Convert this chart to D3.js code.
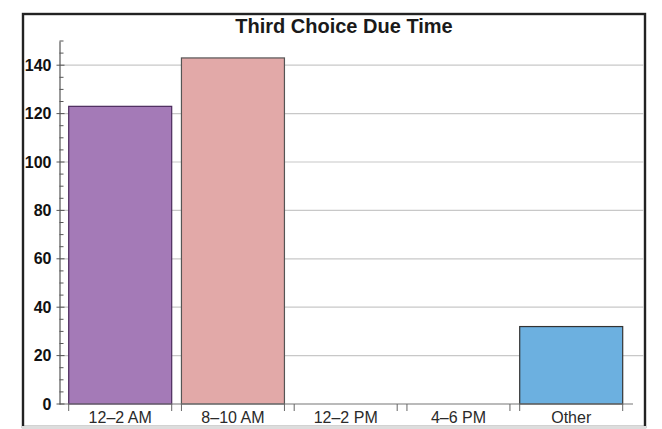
<!DOCTYPE html>
<html>
<head>
<meta charset="utf-8">
<script src="https://cdn.jsdelivr.net/npm/d3@7"></script>
<style>
    body { margin: 0; background: #fff; }
    text { font-family: "Liberation Sans", Arial, sans-serif; }
</style>
</head>
<body>
<div id="chart"></div>
<script>
const categories = ["12–2 AM", "8–10 AM", "12–2 PM", "4–6 PM", "Other"];
const counts = [123, 143, 0, 0, 32];
const barColors = ["#A47AB7", "#E2A9A8", "#9FCB8F", "#F2C27A", "#6CB0E0"];
const barStrokes = ["#4A2A5C", "#555555", "#444444", "#444444", "#333333"];
const yTicks = [0, 20, 40, 60, 80, 100, 120, 140];

const width = 662;
const height = 429;

const svg = d3.select("#chart")
    .append("svg")
    .attr("width", width)
    .attr("height", height);

// frame
svg.append("rect")
    .attr("x", 23)
    .attr("y", 14)
    .attr("width", 622)
    .attr("height", 413)
    .attr("fill", "#fff")
    .attr("stroke", "#222")
    .attr("stroke-width", 2.4);
svg.append("line")
    .attr("x1", 22).attr("x2", 646)
    .attr("y1", 427.5).attr("y2", 427.5)
    .attr("stroke", "#ddd")
    .attr("stroke-width", 3);

const axisX = 59.5;
const xScale = d3.scaleBand()
    .domain(categories)
    .range([68.7, 622.7])
    .paddingInner(0.0865)
    .paddingOuter(0);

const yScale = d3.scaleLinear()
    .domain([0, 150])
    .range([404, 41]);

// gridlines
svg.append("g")
    .selectAll("line")
    .data(yTicks.filter(d => d > 0))
    .enter()
    .append("line")
    .attr("x1", axisX)
    .attr("x2", 644)
    .attr("y1", d => yScale(d))
    .attr("y2", d => yScale(d))
    .attr("stroke", "#c8c8c8")
    .attr("stroke-width", 1.2);

// bars
svg.append("g")
    .selectAll("rect")
    .data(counts)
    .enter()
    .append("rect")
    .attr("x", (d, i) => xScale(categories[i]))
    .attr("y", d => yScale(d))
    .attr("width", xScale.bandwidth())
    .attr("height", d => yScale(0) - yScale(d))
    .attr("fill", (d, i) => barColors[i])
    .attr("stroke", (d, i) => barStrokes[i])
    .attr("stroke-width", 1.2);

// x-axis line
svg.append("line")
    .attr("x1", axisX)
    .attr("x2", 633)
    .attr("y1", yScale(0))
    .attr("y2", yScale(0))
    .attr("stroke", "#777")
    .attr("stroke-width", 1.2);

// x ticks at both edges of each band
const edges = [];
categories.forEach(c => {
    edges.push(xScale(c));
    edges.push(xScale(c) + xScale.bandwidth());
});
svg.append("g")
    .selectAll("line")
    .data(edges)
    .enter()
    .append("line")
    .attr("x1", d => d)
    .attr("x2", d => d)
    .attr("y1", yScale(0))
    .attr("y2", yScale(0) + 7)
    .attr("stroke", "#666")
    .attr("stroke-width", 1);

svg.append("g")
    .selectAll("text")
    .data(categories)
    .enter()
    .append("text")
    .attr("x", d => xScale(d) + xScale.bandwidth() / 2)
    .attr("y", 423)
    .attr("text-anchor", "middle")
    .attr("font-size", "16px")
    .attr("fill", "#2a2a2a")
    .text(d => d);

// y-axis
const yAxis = d3.axisLeft(yScale)
    .tickValues(yTicks)
    .tickSize(0)
    .tickPadding(8)
    .tickFormat(d3.format("d"));
const yg = svg.append("g")
    .attr("transform", `translate(${axisX}, 0)`)
    .call(yAxis);
yg.select(".domain").attr("stroke", "#555").attr("stroke-width", 1.2);
yg.selectAll("text")
    .attr("font-family", "Liberation Sans, Arial, sans-serif")
    .attr("font-size", "16px")
    .attr("font-weight", "bold")
    .attr("fill", "#111");

// minor and major tick marks
const minor = d3.range(0, 151, 5);
svg.append("g")
    .selectAll("line")
    .data(minor)
    .enter()
    .append("line")
    .attr("x1", d => d % 20 === 0 ? axisX - 3 : axisX)
    .attr("x2", d => d % 20 === 0 ? axisX + 5 : axisX + 4)
    .attr("y1", d => yScale(d))
    .attr("y2", d => yScale(d))
    .attr("stroke", "#555")
    .attr("stroke-width", 1);

// title
svg.append("text")
    .attr("x", 344)
    .attr("y", 33)
    .attr("text-anchor", "middle")
    .attr("font-size", "20px")
    .attr("font-weight", "bold")
    .attr("fill", "#1a1a1a")
    .text("Third Choice Due Time");
</script>
</body>
</html>
